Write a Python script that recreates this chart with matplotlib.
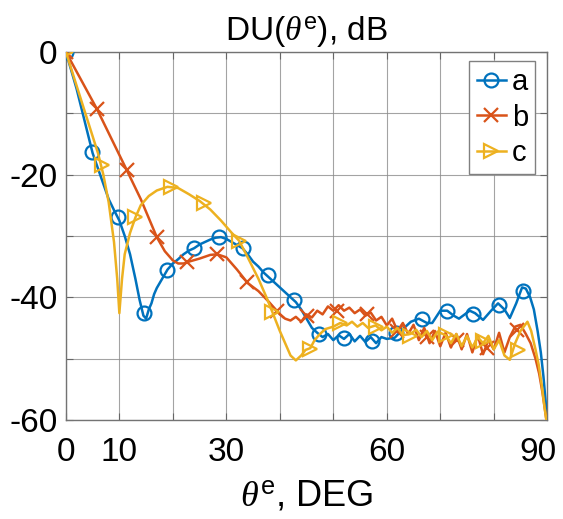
import numpy as np
import matplotlib
matplotlib.use('Agg')
import matplotlib.pyplot as plt
import matplotlib.transforms as mtransforms

plt.rcParams['font.family'] = ['Liberation Sans', 'DejaVu Sans']
plt.rcParams['mathtext.fontset'] = 'custom'
plt.rcParams['mathtext.rm'] = 'Liberation Sans'
plt.rcParams['mathtext.it'] = 'Liberation Serif:italic'

# curve a (blue, circles)
a_x = [0, 2, 4, 5, 6, 7, 8, 9, 10, 11, 12, 13, 13.8, 14.5, 15, 15.5, 16, 16.5, 17, 18, 19,
       20, 21, 22, 23, 24, 25, 26, 27, 28, 29, 30, 31, 32, 33, 34, 35, 36, 37, 38, 39,
       40, 41, 42, 43, 44, 45, 46, 47, 48, 49, 50, 51, 52, 53, 54, 55, 56, 57, 58, 59,
       60, 61.5, 63, 64.5, 66, 67.5, 68.5, 70, 71.3, 72.5, 73.5, 75.5, 76.5, 78, 79.5,
       80.8, 82, 83, 84.2, 85.3, 86, 86.8, 87.5, 88.2, 88.8, 89.3, 89.7, 90]
a_y = [0, -6, -13, -16.5, -19, -21.5, -24, -25.8, -27.5, -30, -33, -37, -40.5, -43, -43.5,
       -42, -41, -39.5, -38.5, -37, -35.5, -34.5, -33.8, -33, -32.4, -32, -31.4, -31,
       -30.6, -30.3, -30.2, -30.5, -31, -31.5, -32, -33, -34.2, -35, -36, -36.8, -37.6,
       -38.4, -39.2, -40, -40.8, -42, -43.5, -45, -45.8, -46.5, -46, -47, -46.2, -46.8,
       -46, -47.2, -46.3, -47.3, -46.5, -47.5, -46.5, -46.8, -46.6, -45.2, -44, -43.5,
       -44.2, -44.2, -42.2, -42.2, -43, -43.5, -42.2, -42.6, -43.7, -42.2, -41, -42,
       -43.4, -41, -38.4, -38.6, -40, -42, -45.5, -49, -53, -57, -61]
a_mx = [0, 4.9, 9.7, 14.6, 19, 24, 28.6, 33.1, 37.8, 42.7, 47.3, 52, 57.3, 61.7, 66.5,
        71.2, 76.2, 81, 85.5]
a_my = [0, -16.4, -27, -42.5, -35.5, -32, -30.2, -32, -36.3, -40.5, -46, -46.6, -47.1,
        -45.8, -43.6, -42.2, -42.8, -41.3, -39]

# curve b (red, crosses)
b_x = [0, 5.8, 11.4, 14, 17, 18.5, 20, 21, 22, 23, 25, 27, 28.3, 30, 32, 34, 36, 38, 40,
       41, 42, 43, 44, 45, 46, 47, 48, 49, 50, 51, 52, 53, 54, 55, 56, 57, 58, 59, 60,
       61, 62, 63, 64, 65, 66, 67, 68, 69, 70, 71, 72, 73, 74, 75, 76, 77, 78, 79, 80,
       81, 82, 83, 84, 85, 86, 86.9, 87.8, 88.5, 89.1, 89.6, 90]
b_y = [0, -9.3, -19.3, -24, -30.2, -32.5, -34, -34.5, -34.5, -34.2, -33.7, -33.1, -33,
       -33.5, -35.5, -37.7, -39, -40.8, -42.8, -43.5, -43.8, -43.2, -44, -42.8, -43.3,
       -42.2, -42.8, -41.5, -42.2, -41.3, -42.2, -41.7, -42.6, -42, -43, -42.5, -43.8,
       -43.2, -44.6, -43.5, -45.5, -44.2, -46, -44.5, -47, -45, -47.5, -45.5, -48,
       -45.8, -48.2, -46, -48.5, -46, -49, -46.2, -49.3, -47, -48.5, -45.8, -49, -46.5,
       -44.8, -44.5, -46, -47.5, -50, -52.5, -55.5, -58.5, -61]
b_mx = [0, 5.8, 11.4, 17, 22.7, 28.3, 33.9, 39.5, 45.1, 50.7, 56.3, 62, 67.6, 73.2,
        78.8, 84.4]
b_my = [0, -9.3, -19.3, -30.2, -34.3, -33, -37.6, -42.3, -43, -42.2, -42.8, -45.5,
        -46.5, -47, -48.3, -45.4]

# curve c (yellow, triangles)
c_x = [0, 2, 4, 6, 7, 8, 9, 9.6, 10, 10.5, 11, 12, 13, 14, 15.5, 17, 19, 21, 23, 25, 27,
       29, 31, 32.4, 34, 36, 37.5, 38.6, 40, 41, 42, 43, 44, 44.8, 45.7, 46.5, 47.5,
       48.5, 50, 51.3, 52.5, 53.5, 54.5, 55.5, 56.5, 57.9, 59, 60, 61, 62, 63, 64.4,
       65.5, 66.5, 67.5, 68.5, 69.5, 71, 72, 73, 74, 75, 76, 77, 78, 79, 80, 81, 82, 83,
       84, 85, 86.3, 87, 87.8, 88.4, 89, 89.5, 90]
c_y = [0, -5.5, -11, -16.5, -20, -24.5, -31, -37, -42.6, -37, -33, -29.5, -27, -25,
       -23.5, -22.6, -22, -22.2, -23.2, -24.3, -25.7, -27.5, -29.5, -30.8, -33.5, -37,
       -40, -42.4, -45.5, -47.5, -49.5, -50.3, -49.5, -48.6, -48.3, -47, -46, -45.2,
       -44.8, -44.2, -44.6, -44, -44.8, -44.2, -45, -44.6, -45.4, -44.8, -45.8, -45,
       -46.2, -46, -45.3, -46.5, -45.5, -47, -45.6, -46.2, -47.5, -46, -48, -46.3, -48.2,
       -46.5, -47.5, -46.3, -48.5, -47, -49.5, -50.2, -47.5, -45.5, -44, -45.5, -48.5,
       -51, -54.5, -58, -61]
c_mx = [0, 6.7, 12.9, 19.6, 25.8, 32.4, 38.6, 45.7, 51.3, 57.9, 64.4, 71, 77.9, 84.5]
c_my = [0, -18.4, -27, -22, -24.6, -30.8, -42.4, -48.4, -44.2, -44.8, -46.3, -46.2,
        -47.2, -48.6]

labels = ['a', 'b', 'c']
colors = ['#0072BD', '#D95319', '#EDB120']
markers = ['o', 'x', '>']
xticks = np.arange(0, 91, 10)
xlabels = ['0', '10', '', '30', '', '', '60', '', '', '90']
yticks = np.arange(-60, 1, 10)
ylabels = ['-60', '', '-40', '', '-20', '', '0']

fig = plt.figure(figsize=(5.63, 5.19), dpi=100)
ax = fig.add_axes([0.117, 0.191, 0.855, 0.709])

series = [(a_x, a_y, a_mx, a_my), (b_x, b_y, b_mx, b_my), (c_x, c_y, c_mx, c_my)]
for (lx, ly, mx, my), lab, col, mk in zip(series, labels, colors, markers):
    ax.plot(lx, ly, color=col, lw=1.8, zorder=3)
    ax.plot(mx, my, ls='none', marker=mk, ms=10, mfc='none', mec=col, mew=1.6, zorder=3)
    # legend proxy
    ax.plot([], [], color=col, lw=1.8, marker=mk, ms=10, mfc='none', mew=1.6, label=lab)

ax.set_xlim(0, 90)
ax.set_ylim(-60, 0)
ax.set_xticks(xticks)
ax.set_xticklabels(xlabels)
ax.set_yticks(yticks)
ax.set_yticklabels(ylabels)
ax.tick_params(direction='in', labelsize=24, top=True, right=True, length=5,
               color='0.4')
ax.tick_params(axis='x', pad=12)
ax.tick_params(axis='y', pad=6)
ax.grid(True, color='0.55', lw=0.8, alpha=0.8)
for s in ax.spines.values():
    s.set_color('0.45')
    s.set_linewidth(1.0)

# last x label pulled inside the figure a bit
last = ax.get_xticklabels()[-1]
last.set_transform(last.get_transform() +
                   mtransforms.ScaledTranslation(-9 / 100, 0, fig.dpi_scale_trans))

ax.set_title(r'DU($\theta^{\mathrm{e}}$), dB', fontsize=24, pad=8)
ax.set_xlabel(r'$\theta^{\mathrm{e}}$, DEG', fontsize=26, labelpad=8)

leg = ax.legend(loc='upper right', bbox_to_anchor=(0.975, 0.975), fontsize=21,
                handlelength=1.0, handletextpad=0.2, borderpad=0.25,
                labelspacing=0.25, borderaxespad=0.0, fancybox=False, framealpha=1)
leg.get_frame().set_edgecolor('0.5')
leg.get_frame().set_linewidth(1.0)

plt.savefig('out.png', dpi=100)
plt.close(fig)
